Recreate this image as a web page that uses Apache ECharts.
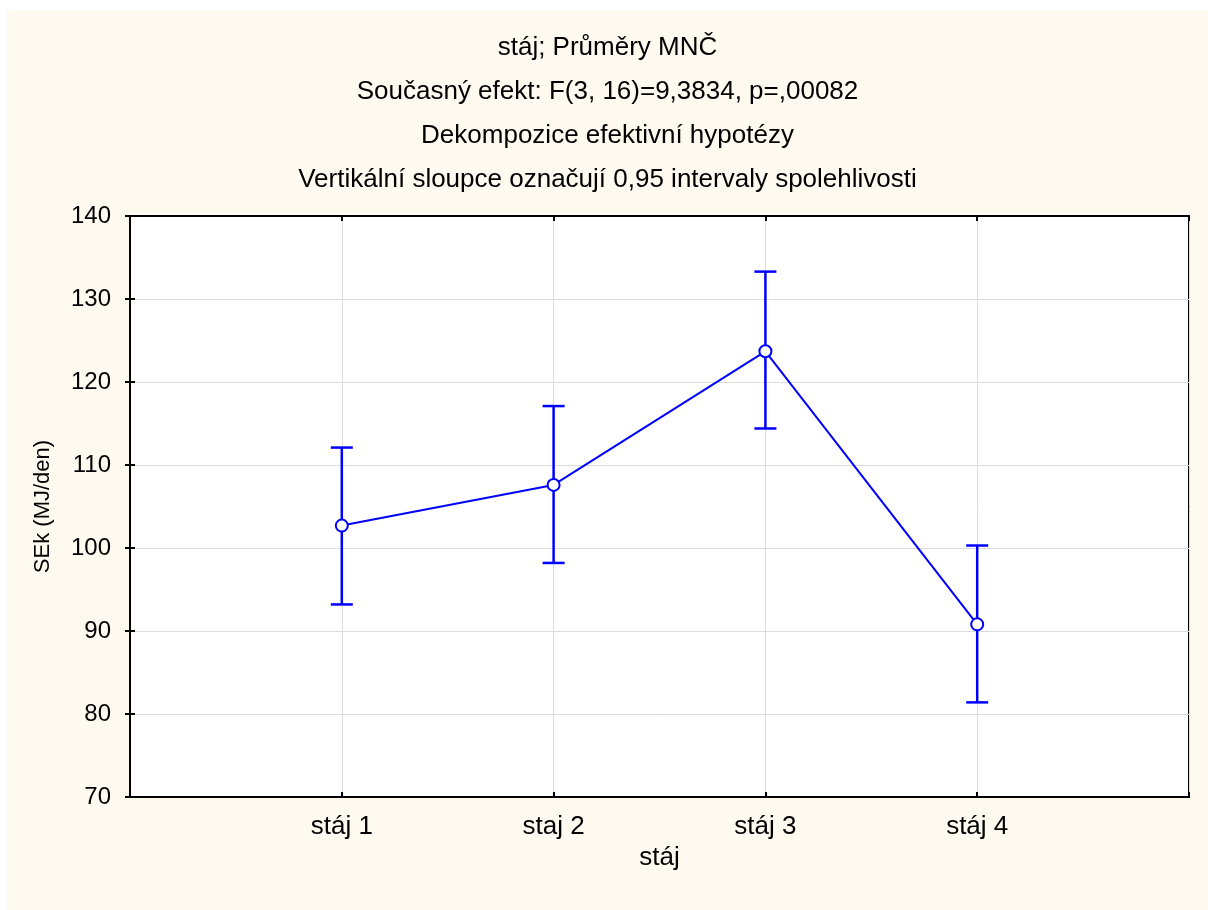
<!DOCTYPE html>
<html>
<head>
<meta charset="utf-8">
<script src="https://cdn.jsdelivr.net/npm/echarts@6/dist/echarts.min.js"></script>
<style>
	html, body { margin: 0; padding: 0; background: #fff; }
	#chart { position: absolute; left: 7px; top: 10px; width: 1201px; height: 900px; }
</style>
</head>
<body>
<div id="chart"></div>
<script>
var categories = ['stáj 1', 'staj 2', 'stáj 3', 'stáj 4'];
var means = [102.7, 107.6, 123.7, 90.8];
var lower = [93.2, 98.2, 114.4, 81.4];
var upper = [112.1, 117.1, 133.3, 100.3];
var yTicks = [70, 80, 90, 100, 110, 120, 130, 140];

var titleLines = [
	'stáj; Průměry MNČ',
	'Současný efekt: F(3, 16)=9,3834, p=,00082',
	'Dekompozice efektivní hypotézy',
	'Vertikální sloupce označují 0,95 intervaly spolehlivosti'
];

var font = 'Liberation Sans, Arial, sans-serif';
var blue = '#0000ff';

var chart = echarts.init(document.getElementById('chart'));

var lineData = means.map(function (v, i) { return [i + 1, v]; });
var errData = means.map(function (v, i) { return [i + 1, lower[i], upper[i]]; });

function catLabel(v) {
	return categories[v - 1] || '';
}

var option = {
	backgroundColor: '#fefaef',
	animation: false,
	title: titleLines.map(function (t, i) {
		return {
			text: t,
			left: 'center',
			top: 20 + i * 44,
			padding: [5, 19, 5, 5],
			textStyle: { fontFamily: font, fontSize: 26, fontWeight: 'normal', color: '#000' }
		};
	}),
	grid: {
		left: 123, right: 19, top: 206, bottom: 113,
		show: true, backgroundColor: '#fff', borderColor: '#000', borderWidth: 2
	},
	xAxis: [{
		type: 'value', min: 0, max: 5, interval: 1,
		name: 'stáj', nameLocation: 'middle', nameGap: 46,
		nameTextStyle: { fontFamily: font, fontSize: 26, color: '#000' },
		axisLine: { lineStyle: { color: '#000', width: 2 } },
		axisTick: { inside: true, length: 5, lineStyle: { color: '#000', width: 2 } },
		axisLabel: { formatter: catLabel, fontFamily: font, fontSize: 26, color: '#000', margin: 17 },
		splitLine: { show: true, lineStyle: { color: '#dcdcdc', width: 1 } }
	}, {
		type: 'value', min: 0, max: 5, interval: 1, position: 'top',
		axisLine: { lineStyle: { color: '#000', width: 2 } },
		axisTick: { inside: true, length: 5, lineStyle: { color: '#000', width: 2 } },
		axisLabel: { show: false },
		splitLine: { show: false }
	}],
	yAxis: [{
		type: 'value', min: yTicks[0], max: yTicks[yTicks.length - 1], interval: 10,
		name: 'SEk (MJ/den)', nameLocation: 'middle', nameGap: 76, nameRotate: 90,
		nameTextStyle: { fontFamily: font, fontSize: 22, color: '#000' },
		axisLine: { show: true, lineStyle: { color: '#000', width: 2 } },
		axisTick: { show: true, inside: true, length: 5, lineStyle: { color: '#000', width: 2 } },
		axisLabel: { fontFamily: font, fontSize: 24, color: '#000', margin: 19 },
		splitLine: { show: true, lineStyle: { color: '#dcdcdc', width: 1 } }
	}, {
		type: 'value', min: yTicks[0], max: yTicks[yTicks.length - 1], interval: 10, position: 'right',
		axisLine: { show: true, lineStyle: { color: '#000', width: 2 } },
		axisTick: { show: true, inside: true, length: 5, lineStyle: { color: '#000', width: 2 } },
		axisLabel: { show: false },
		splitLine: { show: false }
	}],
	series: [{
		type: 'custom',
		data: errData,
		z: 3,
		renderItem: function (params, api) {
			var x = api.value(0);
			var lo = api.coord([x, api.value(1)]);
			var hi = api.coord([x, api.value(2)]);
			var w = 11;
			var style = { stroke: blue, lineWidth: 2.5 };
			return {
				type: 'group',
				children: [
					{ type: 'line', shape: { x1: lo[0], y1: lo[1], x2: hi[0], y2: hi[1] }, style: style },
					{ type: 'line', shape: { x1: hi[0] - w, y1: hi[1], x2: hi[0] + w, y2: hi[1] }, style: style },
					{ type: 'line', shape: { x1: lo[0] - w, y1: lo[1], x2: lo[0] + w, y2: lo[1] }, style: style }
				]
			};
		}
	}, {
		type: 'line',
		data: lineData,
		z: 4,
		symbol: 'emptyCircle',
		symbolSize: 12,
		lineStyle: { color: blue, width: 2 },
		itemStyle: { color: blue, borderColor: blue, borderWidth: 2 }
	}]
};

chart.setOption(option);
</script>
</body>
</html>
